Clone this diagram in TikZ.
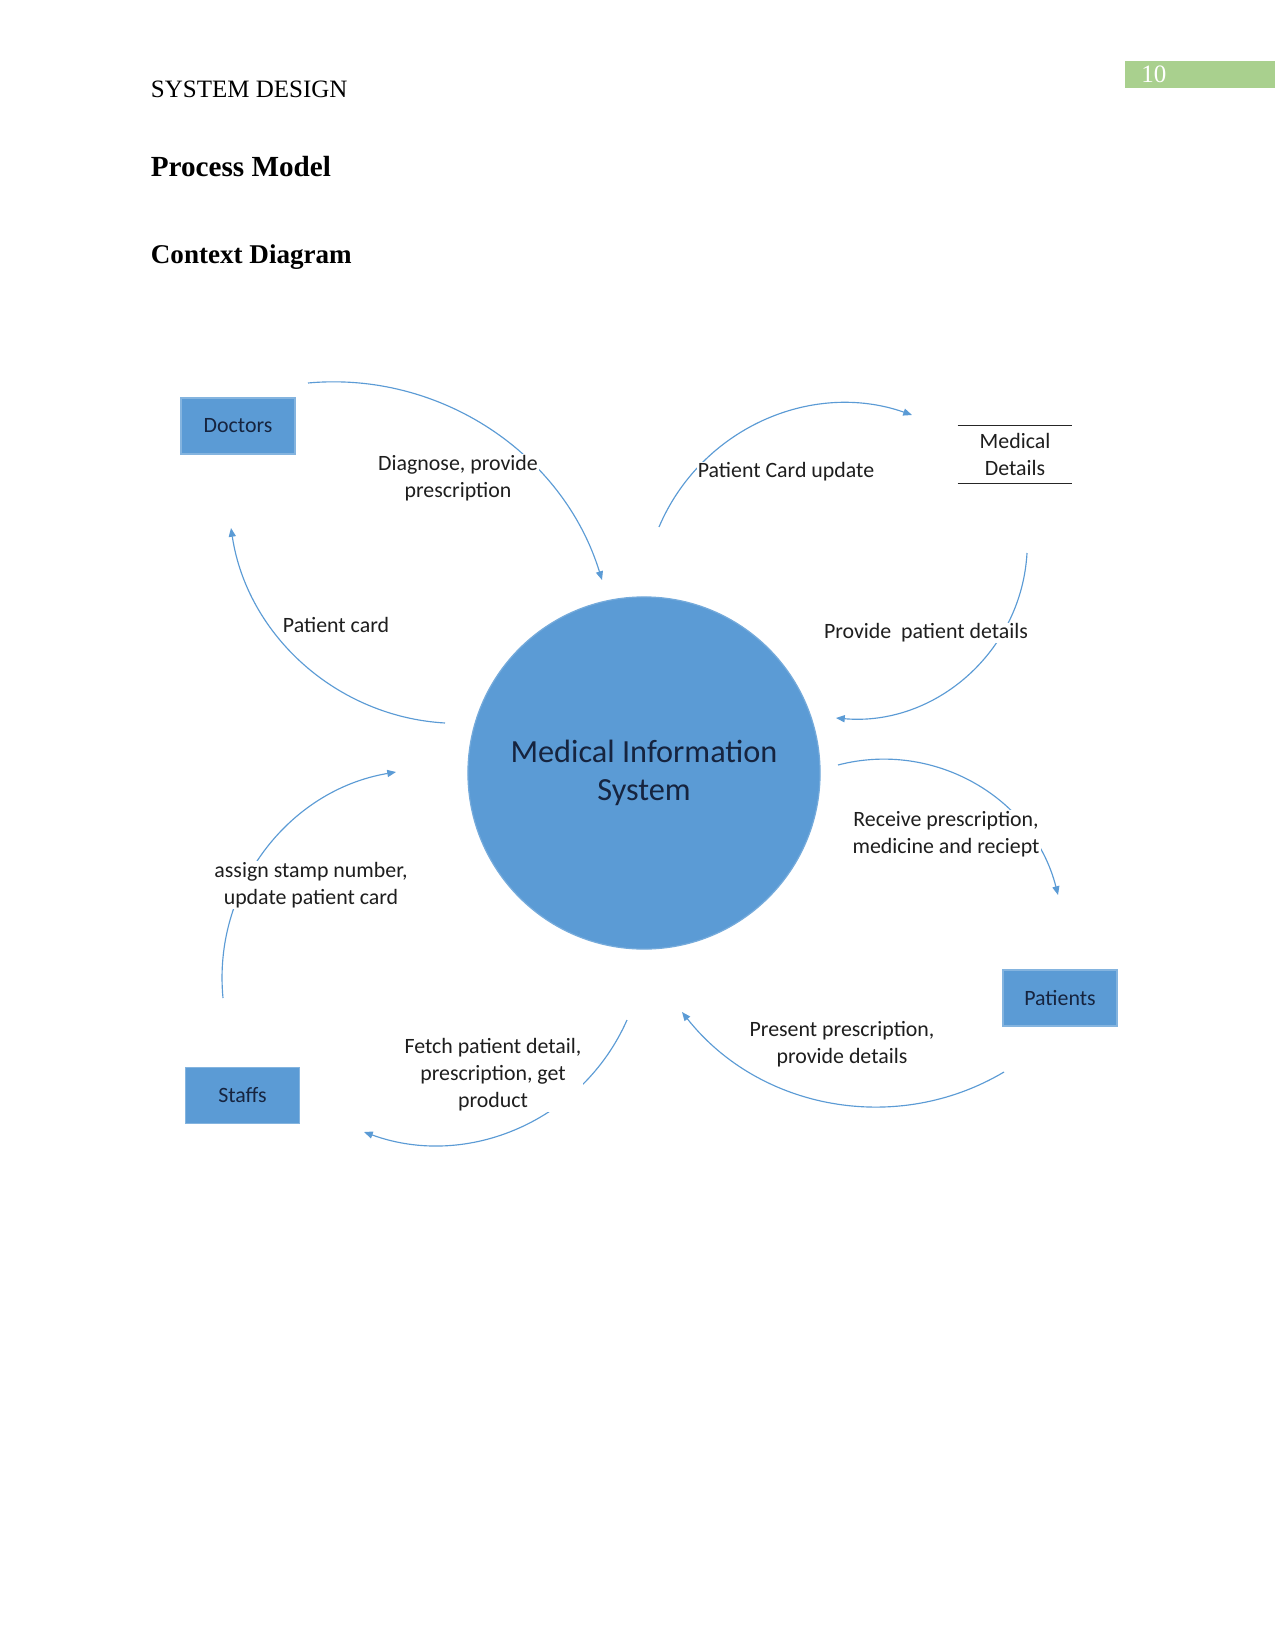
\documentclass[tikz,border=0pt]{standalone}
\usepackage{fontspec}
\setmainfont{Liberation Serif}
\newfontfamily\calib{Carlito}
\usetikzlibrary{arrows.meta}
\definecolor{mblue}{HTML}{5B9BD5}
\definecolor{mline}{HTML}{5B9BD5}
\definecolor{mgreen}{HTML}{A9D08E}
\definecolor{navy}{HTML}{16243F}
\definecolor{txt}{HTML}{1E1E1E}
\begin{document}
\begin{tikzpicture}[x=0.48pt,y=-0.48pt,
 ent/.style={fill=mblue, draw=mblue!75!white, line width=0.8pt, minimum width=54.7pt, minimum height=26.9pt, inner sep=0pt, font=\calib\fontsize{10.5}{13}\selectfont, text=navy},
 proc/.style={circle, fill=mblue, draw=mblue!85!white, line width=0.6pt, minimum size=169pt, inner sep=0pt, align=center, font=\calib\fontsize{15.5}{18}\selectfont, text=navy},
 lab/.style={fill=white, inner sep=0.5pt, align=center, font=\calib\fontsize{10.5}{13}\selectfont, text=txt},
 store/.style={minimum width=54.7pt, minimum height=27.4pt, inner sep=0pt, align=center, font=\calib\fontsize{10.5}{12.6}\selectfont, text=txt},
 flow/.style={draw=mline, line width=0.55pt, -{Triangle[length=4.2pt,width=3.4pt]}},
 head/.style={anchor=base west, inner sep=0pt},
 ]
\useasboundingbox (0,0) rectangle (1275,1651);
\fill[white] (0,0) rectangle (1275,1651);

% header
\node[fill=mgreen, minimum width=72pt, minimum height=13pt, anchor=north west, inner sep=0pt] (pg) at (1125,61) {};
\node[head, text=white, font=\fontsize{12}{14}\selectfont] (pgnum) at (1141,83) {10};
\node[head, font=\fontsize{12}{14}\selectfont] (title) at (150.5,98) {SYSTEM DESIGN};
\node[head, font=\bfseries\fontsize{14}{16}\selectfont] (h1) at (150.5,177) {Process Model};
\node[head, font=\bfseries\fontsize{13}{15}\selectfont] (h2) at (150.5,263) {Context Diagram};

% entities
\node[proc] (mis) at (644,773) {Medical Information\\System};
\node[ent] (doctors) at (238,426) {Doctors};
\node[ent] (staffs) at (242.5,1095.5) {Staffs};
\node[ent] (patients) at (1060,998) {Patients};
\node[store] (md) at (1015,454.5) {Medical\\Details};
\draw[line width=0.7pt, black!85] (md.north west) -- (md.north east);
\draw[line width=0.7pt, black!85] (md.south west) -- (md.south east);

% flow end points
\coordinate (a1s) at (308,383);   \coordinate (a1e) at (602,580);
\coordinate (a2s) at (445,723);   \coordinate (a2e) at (231,528);
\coordinate (a3s) at (659,527);   \coordinate (a3e) at (912,415);
\coordinate (a4s) at (1027,553);  \coordinate (a4e) at (836,718);
\coordinate (a5s) at (838,765);   \coordinate (a5e) at (1058,895);
\coordinate (a6s) at (1004,1072); \coordinate (a6e) at (682,1012);
\coordinate (a7s) at (627,1020);  \coordinate (a7e) at (364,1132);
\coordinate (a8s) at (223,998);   \coordinate (a8e) at (396,772);

% flows
\draw[flow] (a1s) .. controls (440.1,370.9) and (563,453.4) .. (a1e);
\draw[flow] (a2s) .. controls (336.7,716.75) and (247.2,635.3) .. (a2e);
\draw[flow] (a3s) .. controls (700.6,428.9) and (811.4,379.8) .. (a3e);
\draw[flow] (a4s) .. controls (1021.4,652) and (934.8,726.5) .. (a4e);
\draw[flow] (a5s) .. controls (934.7,739.8) and (1033.5,798.2) .. (a5e);
\draw[flow] (a6s) .. controls (896.9,1135.6) and (759.2,1109.8) .. (a6e);
\draw[flow] (a7s) .. controls (582.5,1120.7) and (467.5,1169.7) .. (a7e);
\draw[flow] (a8s) .. controls (212.5,888.9) and (287.9,790.3) .. (a8e);

% labels
\node[lab] (l1) at (458,478) {Diagnose, provide\\prescription};
\node[lab] (l2) at (336,625) {Patient card};
\node[lab] (l3) at (786,472) {Patient Card update};
\node[lab] (l4) at (926,633) {Provide\ \ patient details};
\node[lab] (l5) at (946,834) {Receive prescription,\\medicine and reciept};
\node[lab] (l6) at (842,1044) {Present prescription,\\provide details};
\node[lab] (l7) at (493,1074.5) {Fetch patient detail,\\prescription, get\\product};
\node[lab] (l8) at (311,885) {assign stamp number,\\update patient card};
\end{tikzpicture}
\end{document}
